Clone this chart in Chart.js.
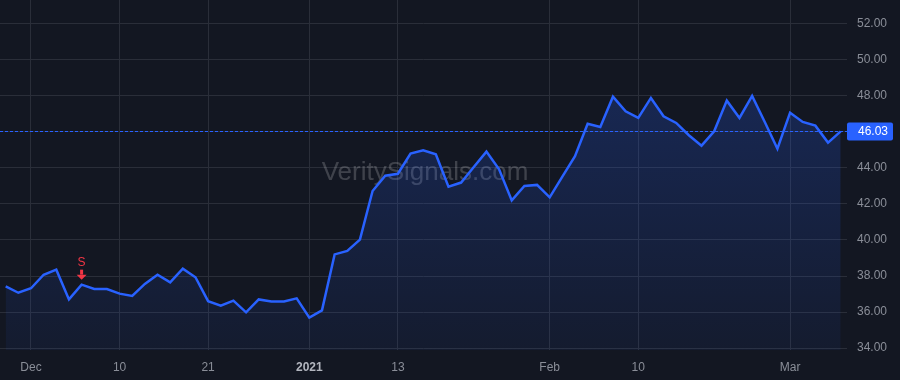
<!DOCTYPE html>
<html>
<head>
<meta charset="utf-8">
<script src="https://cdn.jsdelivr.net/npm/chart.js@4/dist/chart.umd.min.js"></script>
<style>
  body { margin: 0; background: #131722; }
  #wrap { width: 900px; height: 380px; position: relative; }
</style>
</head>
<body>
<div id="wrap"><canvas id="priceChart"></canvas></div>
<script>
const dates = [
  '2020-11-27','2020-11-30',
  '2020-12-01','2020-12-02','2020-12-03','2020-12-04','2020-12-07','2020-12-08','2020-12-09','2020-12-10','2020-12-11',
  '2020-12-14','2020-12-15','2020-12-16','2020-12-17','2020-12-18','2020-12-21','2020-12-22','2020-12-23','2020-12-24',
  '2020-12-28','2020-12-29','2020-12-30','2020-12-31',
  '2021-01-04','2021-01-05','2021-01-06','2021-01-07','2021-01-08','2021-01-11','2021-01-12','2021-01-13','2021-01-14',
  '2021-01-15','2021-01-19','2021-01-20','2021-01-21','2021-01-22','2021-01-25','2021-01-26','2021-01-27','2021-01-28','2021-01-29',
  '2021-02-01','2021-02-02','2021-02-03','2021-02-04','2021-02-05','2021-02-08','2021-02-09','2021-02-10','2021-02-11',
  '2021-02-12','2021-02-16','2021-02-17','2021-02-18','2021-02-19','2021-02-22','2021-02-23','2021-02-24','2021-02-25','2021-02-26',
  '2021-03-01','2021-03-02','2021-03-03','2021-03-04','2021-03-05'
];
const prices = [
  37.43, 37.07,
  37.32, 38.07, 38.35, 36.70, 37.52, 37.28, 37.28, 37.02, 36.89,
  37.56, 38.07, 37.65, 38.41, 37.93, 36.60, 36.35, 36.63, 35.98,
  36.70, 36.59, 36.59, 36.76,
  35.69, 36.09, 39.20, 39.39, 40.02, 42.72, 43.57, 43.68, 44.80,
  44.98, 44.76, 42.96, 43.19, 44.05, 44.91, 43.93, 42.20, 43.00,
  43.06, 42.37, 43.52, 44.65, 46.46, 46.28, 47.96, 47.15, 46.78,
  47.89, 46.87, 46.50, 45.82, 45.24, 46.04, 47.74, 46.78, 48.00, 46.55,
  45.07, 47.07, 46.56, 46.35, 45.41, 46.03
];
const xTickDates = ['2020-12-01','2020-12-10','2020-12-21','2021-01-04','2021-01-13','2021-02-01','2021-02-10','2021-03-01'];
const xTickText  = ['Dec', '10', '21', '2021', '13', 'Feb', '10', 'Mar'];
const yTicks = [34, 36, 38, 40, 42, 44, 46, 48, 50, 52];
const signalDates = ['2020-12-07'];
const signalText = ['S'];

const FONT = "'Liberation Sans', Arial, sans-serif";
const BLUE = '#2962ff';
const xTickIdx = xTickDates.map(d => dates.indexOf(d));
const lastPrice = prices[prices.length - 1];

const decorPlugin = {
  id: 'decor',
  beforeDraw(chart) {
    const c = chart.ctx;
    c.save();
    c.fillStyle = '#131722';
    c.fillRect(0, 0, chart.width, chart.height);
    c.restore();
  },
  beforeDatasetsDraw(chart) {
    const c = chart.ctx;
    c.save();
    c.font = '26px ' + FONT;
    c.fillStyle = 'rgba(255,255,255,0.19)';
    c.textAlign = 'center';
    c.textBaseline = 'middle';
    c.fillText('VeritySignals.com', 425, 173);
    c.restore();
  },
  afterDatasetsDraw(chart) {
    const c = chart.ctx, a = chart.chartArea;
    const x = chart.scales.x, y = chart.scales.y;
    // last price line + label
    const py = Math.round(y.getPixelForValue(lastPrice)) + 0.5;
    c.save();
    c.strokeStyle = BLUE;
    c.lineWidth = 1;
    c.setLineDash([3, 2]);
    c.beginPath();
    c.moveTo(a.left, py);
    c.lineTo(a.right, py);
    c.stroke();
    c.setLineDash([]);
    c.fillStyle = BLUE;
    c.beginPath();
    c.roundRect(a.right, py - 9, 46, 18, 2);
    c.fill();
    c.fillStyle = '#ffffff';
    c.font = '12px ' + FONT;
    c.textBaseline = 'middle';
    c.fillText(lastPrice.toFixed(2), a.right + 11, py + 0.5);
    // signal markers
    signalDates.forEach((d, k) => {
      const i = dates.indexOf(d);
      const sx = x.getPixelForValue(i);
      const sy = y.getPixelForValue(prices[i]);
      c.fillStyle = '#f23645';
      c.strokeStyle = '#f23645';
      c.lineWidth = 3;
      c.beginPath();
      c.moveTo(sx, sy - 15);
      c.lineTo(sx, sy - 10);
      c.stroke();
      c.beginPath();
      c.moveTo(sx - 5, sy - 10);
      c.lineTo(sx + 5, sy - 10);
      c.lineTo(sx, sy - 5);
      c.closePath();
      c.fill();
      c.font = '12px ' + FONT;
      c.textAlign = 'center';
      c.textBaseline = 'middle';
      c.fillText(signalText[k], sx, sy - 22);
    });
    c.restore();
  }
};

const ctx = document.getElementById('priceChart').getContext('2d');
new Chart(ctx, {
  type: 'line',
  data: {
    datasets: [{
      data: prices.map((p, i) => ({ x: i, y: p })),
      borderColor: BLUE,
      borderWidth: 2.5,
      pointRadius: 0,
      tension: 0,
      fill: 'start',
      backgroundColor: (context) => {
        const a = context.chart.chartArea;
        if (!a) return 'rgba(41,98,255,0.2)';
        const g = context.chart.ctx.createLinearGradient(0, a.top, 0, a.bottom);
        g.addColorStop(0, 'rgba(41,98,255,0.28)');
        g.addColorStop(1, 'rgba(41,98,255,0.06)');
        return g;
      }
    }]
  },
  options: {
    responsive: true,
    maintainAspectRatio: false,
    animation: false,
    layout: { padding: 0 },
    plugins: { legend: { display: false }, tooltip: { enabled: false } },
    scales: {
      x: {
        type: 'linear',
        min: -0.45,
        max: 66.5,
        afterBuildTicks: (s) => { s.ticks = xTickIdx.map(v => ({ value: v })); },
        afterFit: (s) => { s.height = 30; s.paddingLeft = 0; s.paddingRight = 0; },
        grid: { color: '#2a2e39', drawTicks: false },
        border: { display: false },
        ticks: {
          autoSkip: false,
          maxRotation: 0,
          padding: 10,
          callback: (v) => xTickText[xTickIdx.indexOf(v)],
          color: (c) => c.tick && c.tick.label === '2021' ? '#b2b5be' : '#8a8e98',
          font: (c) => ({ family: FONT, size: 12, weight: c.tick && c.tick.label === '2021' ? 'bold' : 'normal' })
        }
      },
      y: {
        position: 'right',
        min: 33.89,
        max: 53.33,
        afterBuildTicks: (s) => { s.ticks = yTicks.map(v => ({ value: v })); },
        afterFit: (s) => { s.width = 53; s.paddingTop = 0; s.paddingBottom = 0; },
        grid: { color: '#2a2e39', drawTicks: false },
        border: { display: false },
        ticks: {
          padding: 10,
          color: '#8a8e98',
          font: { family: FONT, size: 12 },
          callback: (v) => v.toFixed(2)
        }
      }
    }
  },
  plugins: [decorPlugin]
});
</script>
</body>
</html>
